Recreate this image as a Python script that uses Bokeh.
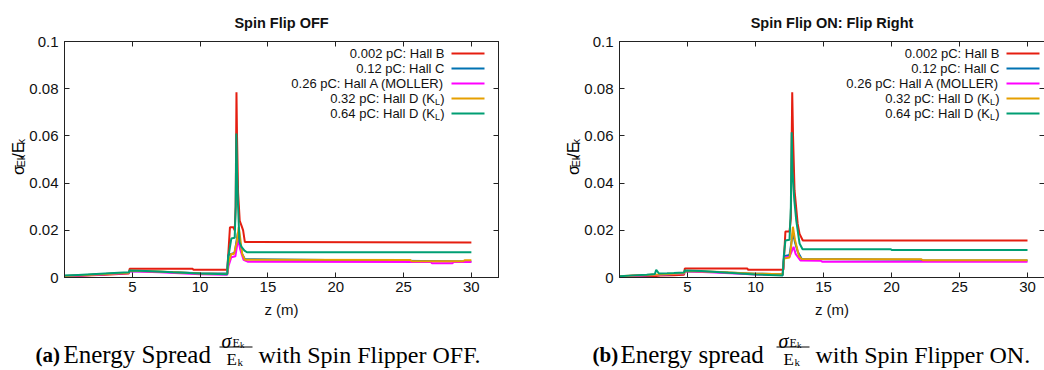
from bokeh.plotting import figure
from bokeh.layouts import column, row
from bokeh.models import (Range1d, FixedTicker, LinearAxis, Label, BoxAnnotation,
                          CustomJSTickFormatter)
from bokeh.core.properties import value
from bokeh.embed import file_html
from bokeh.resources import INLINE
import math

SANS = "Liberation Sans"
SERIF = "Liberation Serif"

# ---------------- data ----------------
series_labels = ["0.002 pC: Hall B", "0.12 pC: Hall C", "0.26 pC: Hall A (MOLLER)",
                 "0.32 pC: Hall D (K", "0.64 pC: Hall D (K"]
series_label_sub = ["", "", "", "L", "L"]
series_colors = ["#e51e10", "#0072b2", "#ff00ff", "#e69f00", "#009e73"]
x_ticks = [5, 10, 15, 20, 25, 30]
y_ticks = [0, 0.02, 0.04, 0.06, 0.08, 0.1]

# Spin Flip OFF
z_B_off = [0.0, 1.0, 2.0, 3.0, 4.0, 4.75, 4.8, 7.0, 9.45, 9.5, 12.0, 12.1, 12.2, 12.45, 12.55, 12.62,
           12.68, 12.72, 12.8, 12.92, 13.05, 13.17, 13.3, 30.0]
s_B_off = [0.0003, 0.0006, 0.0009, 0.0012, 0.0015, 0.0017, 0.0037, 0.0037, 0.0037, 0.0033, 0.0033,
           0.012, 0.0213, 0.0213, 0.0200, 0.030, 0.0785, 0.060, 0.036, 0.024, 0.022, 0.020, 0.015, 0.0148]
z_C_off = [0.0, 1.0, 2.0, 3.0, 4.0, 4.75, 4.8, 7.0, 10.0, 12.0, 12.08, 12.3, 12.55, 12.78, 12.9,
           13.1, 13.3, 30.0]
s_C_off = [0.0006, 0.0009, 0.0012, 0.0015, 0.0018, 0.0020, 0.0028, 0.0024, 0.0018, 0.0017,
           0.0095, 0.0100, 0.0105, 0.0190, 0.0150, 0.0100, 0.0078, 0.0068]
z_A_off = [0.0, 1.0, 2.0, 3.0, 4.0, 4.75, 4.8, 7.0, 10.0, 12.0, 12.1, 12.3, 12.6, 12.8, 12.95,
           13.2, 13.5, 27.0, 27.1, 28.6, 28.7, 30.0]
s_A_off = [0.0005, 0.0008, 0.0011, 0.0014, 0.0017, 0.0019, 0.0027, 0.0022, 0.0014, 0.0012,
           0.005, 0.0086, 0.0090, 0.0164, 0.0120, 0.0075, 0.0067, 0.0066, 0.0060, 0.0060,
           0.0066, 0.0066]
z_D1_off = [0.0, 1.0, 2.0, 3.0, 4.0, 4.75, 4.8, 7.0, 10.0, 12.0, 12.08, 12.3, 12.5, 12.7, 12.85,
            12.95, 13.1, 13.3, 25.5, 25.6, 29.4, 29.5, 30.0]
s_D1_off = [0.0006, 0.0009, 0.0012, 0.0015, 0.0018, 0.0020, 0.0029, 0.0025, 0.0017, 0.0015,
            0.0060, 0.0100, 0.0100, 0.0150, 0.0213, 0.0170, 0.0100, 0.0075, 0.0074, 0.0069,
            0.0069, 0.0073, 0.0073]
z_D2_off = [0.0, 1.0, 2.0, 3.0, 4.0, 4.75, 4.8, 6.0, 8.0, 10.0, 12.0, 12.06, 12.3, 12.55, 12.62,
            12.67, 12.72, 12.8, 12.9, 13.05, 13.27, 13.45, 30.0]
s_D2_off = [0.0008, 0.0011, 0.0014, 0.0017, 0.0020, 0.0022, 0.0030, 0.0028, 0.0022, 0.0017,
            0.0014, 0.0080, 0.0165, 0.0168, 0.0300, 0.0610, 0.0450, 0.0300, 0.0150, 0.0130,
            0.0114, 0.0107, 0.0107]

# Spin Flip ON: Flip Right
z_B_on = [0.0, 1.0, 2.0, 2.7, 3.0, 4.0, 4.75, 4.8, 7.0, 9.4, 9.45, 12.05, 12.13, 12.2, 12.5, 12.6,
          12.7, 12.76, 12.87, 13.1, 13.24, 13.48, 30.0]
s_B_on = [0.0003, 0.0004, 0.0005, 0.0006, 0.0008, 0.0010, 0.0012, 0.0038, 0.0038, 0.0038,
          0.0033, 0.0033, 0.0120, 0.0195, 0.0195, 0.0250, 0.0785, 0.0600, 0.0370, 0.0228,
          0.0185, 0.0157, 0.0157]
z_C_on = [0.0, 1.0, 2.0, 3.0, 4.0, 4.75, 4.8, 7.0, 10.0, 12.0, 12.1, 12.5, 12.75, 12.9, 13.1,
          13.4, 22.2, 22.3, 30.0]
s_C_on = [0.0004, 0.0007, 0.0010, 0.0012, 0.0015, 0.0017, 0.0027, 0.0023, 0.0016, 0.0014,
          0.0090, 0.0095, 0.0190, 0.0150, 0.0110, 0.0078, 0.0075, 0.0072, 0.0072]
z_A_on = [0.0, 1.0, 2.0, 3.0, 4.0, 4.75, 4.8, 7.0, 10.0, 12.0, 12.1, 12.5, 12.8, 12.95, 13.3,
          14.8, 14.9, 30.0]
s_A_on = [0.0004, 0.0007, 0.0010, 0.0012, 0.0015, 0.0017, 0.0026, 0.0021, 0.0013, 0.0011,
          0.0085, 0.0088, 0.0130, 0.0100, 0.0072, 0.0071, 0.0067, 0.0067]
z_D1_on = [0.0, 1.0, 2.0, 3.0, 4.0, 4.75, 4.8, 7.0, 10.0, 12.0, 12.1, 12.5, 12.6, 12.75, 12.9,
           13.2, 13.4, 22.2, 22.3, 30.0]
s_D1_on = [0.0005, 0.0008, 0.0011, 0.0013, 0.0016, 0.0018, 0.0028, 0.0024, 0.0016, 0.0014,
           0.0080, 0.0085, 0.0120, 0.0215, 0.0160, 0.0090, 0.0078, 0.0077, 0.0073, 0.0073]
z_D2_on = [0.0, 1.0, 2.0, 2.6, 2.7, 2.9, 3.5, 4.0, 4.75, 4.8, 6.0, 8.0, 10.0, 12.0, 12.08, 12.2,
           12.5, 12.6, 12.66, 12.72, 12.85, 13.0, 13.24, 13.46, 19.95, 20.0, 30.0]
s_D2_on = [0.0005, 0.0009, 0.0012, 0.0015, 0.0033, 0.0017, 0.0018, 0.0019, 0.0021, 0.0030,
           0.0028, 0.0020, 0.0013, 0.0009, 0.0090, 0.0157, 0.0160, 0.0300, 0.0615, 0.0450,
           0.0330, 0.0240, 0.0144, 0.0120, 0.0120, 0.0117, 0.0117]

panel_titles = ["Spin Flip OFF", "Spin Flip ON: Flip Right"]
panel_series = [
    [(z_B_off, s_B_off), (z_C_off, s_C_off), (z_A_off, s_A_off), (z_D1_off, s_D1_off),
     (z_D2_off, s_D2_off)],
    [(z_B_on, s_B_on), (z_C_on, s_C_on), (z_A_on, s_A_on), (z_D1_on, s_D1_on),
     (z_D2_on, s_D2_on)],
]

ROW_H = 322
FRAME_H = 236
TOP = 41
BOTTOM = ROW_H - TOP - FRAME_H
INK = "#111111"
AX = "#222222"


def make_panel(title, series, border_left, frame_w, border_right, x_end):
    p = figure(frame_width=frame_w, frame_height=FRAME_H,
               x_range=Range1d(0, x_end), y_range=Range1d(0, 0.1),
               output_backend="svg", toolbar_location=None,
               min_border_left=border_left, min_border_right=border_right,
               min_border_top=TOP, min_border_bottom=BOTTOM)
    p.xgrid.visible = False
    p.ygrid.visible = False
    p.outline_line_color = AX

    p.title.text = title
    p.title.align = "center"
    p.title.text_font = SANS
    p.title.text_font_size = "14.5px"
    p.title.text_font_style = "bold"
    p.title.text_color = INK
    p.title.standoff = 22

    for (zs, ss), col in zip(series, series_colors):
        p.line(zs, ss, line_color=col, line_width=2)

    xa = p.xaxis[0]
    xa.ticker = FixedTicker(ticks=x_ticks)
    xa.major_label_text_font = SANS
    xa.major_label_text_font_size = "15px"
    xa.major_label_text_color = INK
    xa.major_label_standoff = 4
    xa.major_tick_in = 5
    xa.major_tick_out = 0
    xa.minor_tick_line_color = None
    xa.axis_line_color = AX
    xa.major_tick_line_color = AX
    xa.axis_label = "z (m)"
    xa.axis_label_text_font = SANS
    xa.axis_label_text_font_size = "15px"
    xa.axis_label_text_font_style = "normal"
    xa.axis_label_text_color = INK
    xa.axis_label_standoff = 6

    ya = p.yaxis[0]
    ya.ticker = FixedTicker(ticks=y_ticks)
    ya.formatter = CustomJSTickFormatter(
        code="return tick == 0 ? '0' : String(Math.round(tick * 100) / 100);")
    ya.major_label_text_font = SANS
    ya.major_label_text_font_size = "15px"
    ya.major_label_text_color = INK
    ya.major_label_standoff = 6
    ya.major_tick_in = 5
    ya.major_tick_out = 0
    ya.minor_tick_line_color = None
    ya.axis_line_color = AX
    ya.major_tick_line_color = AX

    # mirrored tick axes (gnuplot style)
    blank = CustomJSTickFormatter(code="return '';")
    for ticks, side in [(x_ticks, "above"), (y_ticks, "right")]:
        ax = LinearAxis(ticker=FixedTicker(ticks=ticks), formatter=blank,
                        major_tick_in=5, major_tick_out=0, minor_tick_line_color=None,
                        major_label_text_font_size="1px", major_label_standoff=0,
                        axis_line_color=AX, major_tick_line_color=AX)
        p.add_layout(ax, side)

    # gnuplot-style legend: right-aligned text, line sample on the right
    for i, (lab, sub, col) in enumerate(zip(series_labels, series_label_sub, series_colors)):
        cy = 224 - 15 * i
        tx = 380
        if sub:
            p.add_layout(Label(x=tx, y=cy, x_units="screen", y_units="screen", text=")",
                               text_font=SANS, text_font_size="13px", text_align="right",
                               text_baseline="middle", text_color=INK))
            p.add_layout(Label(x=tx - 4.5, y=cy - 3, x_units="screen", y_units="screen",
                               text=sub, text_font=SANS, text_font_size="9px",
                               text_align="right", text_baseline="middle", text_color=INK))
            tx = tx - 9.5
        p.add_layout(Label(x=tx, y=cy, x_units="screen", y_units="screen", text=lab,
                           text_font=SANS, text_font_size="13px", text_align="right",
                           text_baseline="middle", text_color=INK))
        p.add_layout(BoxAnnotation(left=387, right=420, bottom=cy - 1, top=cy + 1,
                                   left_units="screen", right_units="screen",
                                   bottom_units="screen", top_units="screen",
                                   fill_color=col, fill_alpha=1.0, line_color=None))
    return p


def blank_canvas(width, height, x0, y0):
    f = figure(width=width, height=height, x_range=Range1d(x0, x0 + width),
               y_range=Range1d(y0 + height, y0), output_backend="svg",
               toolbar_location=None, min_border=0)
    f.axis.visible = False
    f.xgrid.visible = False
    f.ygrid.visible = False
    f.outline_line_color = None
    return f


def put_text(f, x, y, txt, font, size, style="normal", angle=0.0):
    f.text(x=[x], y=[y], text=[txt], angle=angle, text_font=value(font),
           text_font_size=value(size), text_font_style=style, text_align="left",
           text_baseline="alphabetic", text_color="black")


def make_ylabel(x0, width, xb):
    """Narrow strip holding the rotated axis title sigma_{Ek}/E_k (page pixel coords)."""
    f = blank_canvas(width, ROW_H, x0, 0)
    pieces = [("σ", xb, 182, "16px"), ("Ek", xb + 2.5, 172, "11px"),
              ("/", xb, 158.5, "16px"), ("E", xb, 152, "16px"), ("k", xb + 2.5, 140.5, "11px")]
    for txt, bx, by, fs in pieces:
        put_text(f, bx, by, txt, SANS, fs, angle=math.pi / 2)
    return f


yl1 = make_ylabel(0, 26, 18)
p1 = make_panel(panel_titles[0], panel_series[0], 36, 434, 26, 32)
yl2 = make_ylabel(522, 57, 571)
p2 = make_panel(panel_titles[1], panel_series[1], 36, 425, 4, 31.25)

# ---------------- captions (page pixel coords) ----------------
CAP_H = 370 - ROW_H
cap = blank_canvas(1044, CAP_H, 0, ROW_H)

for ox, tag, word, rest, rest_x in [(0, "(a)", "Energy Spread", "with Spin Flipper OFF.", 258),
                                    (557, "(b)", "Energy spread", "with Spin Flipper ON.", 815)]:
    put_text(cap, 35 + ox, 354, tag, SERIF, "21px", "bold")
    put_text(cap, 63 + ox, 354, word, SERIF, "25px")
    # fraction sigma_{E_k} / E_k
    put_text(cap, 221 + ox, 340, "σ", SERIF, "20px", "italic")
    put_text(cap, 232 + ox, 342.5, "E", SERIF, "12px")
    put_text(cap, 239.5 + ox, 344, "k", SERIF, "9px")
    cap.segment(x0=[219 + ox], y0=[346.5], x1=[252 + ox], y1=[346.5], line_color="black",
                line_width=1)
    put_text(cap, 226 + ox, 359, "E", SERIF, "17px")
    put_text(cap, 237 + ox, 361.5, "k", SERIF, "11px")
    put_text(cap, rest_x, 354, rest, SERIF, "24px")

layout = column(row(yl1, p1, yl2, p2), cap)
open("out.html", "w").write(file_html(layout, INLINE))
